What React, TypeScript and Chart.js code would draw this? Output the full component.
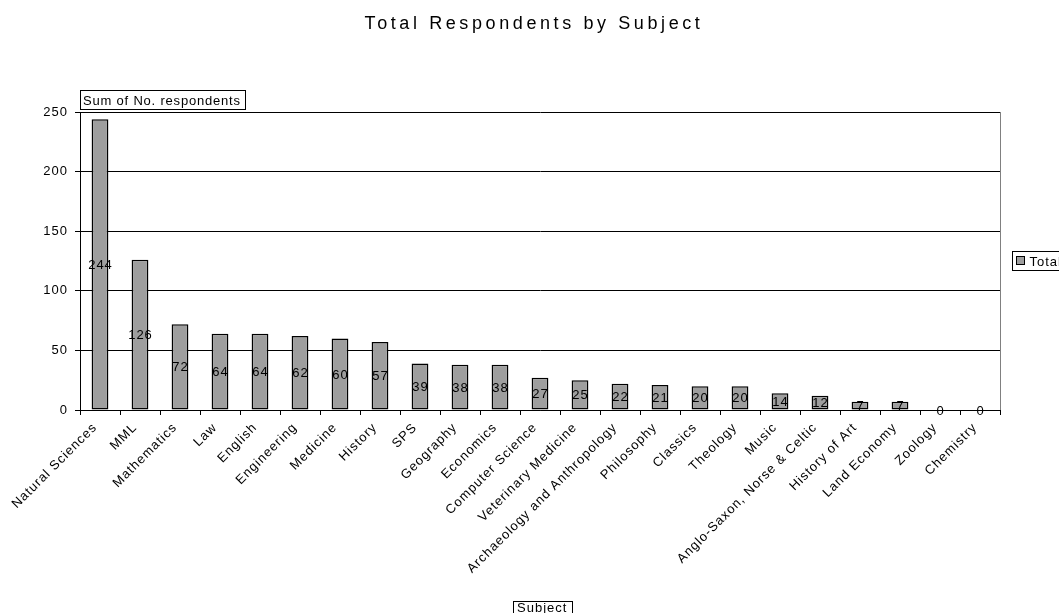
import React, { useEffect, useRef } from "react";
import { Chart, registerables } from "chart.js";

Chart.register(...registerables);

const chartTitle = "Total Respondents by Subject";
const yAxisTitle = "Sum of No. respondents";
const xAxisTitle = "Subject";
const seriesName = "Total";

const subjects = [
  "Natural Sciences",
  "MML",
  "Mathematics",
  "Law",
  "English",
  "Engineering",
  "Medicine",
  "History",
  "SPS",
  "Geography",
  "Economics",
  "Computer Science",
  "Veterinary Medicine",
  "Archaeology and Anthropology",
  "Philosophy",
  "Classics",
  "Theology",
  "Music",
  "Anglo-Saxon, Norse & Celtic",
  "History of Art",
  "Land Economy",
  "Zoology",
  "Chemistry",
];

const respondents = [244, 126, 72, 64, 64, 62, 60, 57, 39, 38, 38, 27, 25, 22, 21, 20, 20, 14, 12, 7, 7, 0, 0];

const yMin = 0;
const yMax = 250;
const yStep = 50;

const FONT = "'Liberation Sans', Arial, sans-serif";
const FS = 13;
const SPACING = "1px";
const BAR_FILL = "#9e9e9e";

const decorPlugin = {
  id: "decor",
  beforeDraw(chart: any) {
    (chart.ctx as any).letterSpacing = SPACING;
  },
  afterDraw(chart: any) {
    const ctx = chart.ctx as CanvasRenderingContext2D;
    const area = chart.chartArea;
    ctx.save();

    // right border of plot area
    ctx.strokeStyle = "#808080";
    ctx.lineWidth = 1;
    ctx.beginPath();
    ctx.moveTo(Math.round(area.right) + 0.5, area.top);
    ctx.lineTo(Math.round(area.right) + 0.5, area.bottom);
    ctx.stroke();

    // title
    ctx.fillStyle = "#000";
    ctx.font = `18px ${FONT}`;
    (ctx as any).letterSpacing = "3.6px";
    ctx.textAlign = "center";
    ctx.textBaseline = "alphabetic";
    ctx.fillText(chartTitle, 534, 29);

    // y axis title box
    (ctx as any).letterSpacing = "0.8px";
    ctx.font = `${FS}px ${FONT}`;
    ctx.textAlign = "left";
    ctx.textBaseline = "alphabetic";
    ctx.fillStyle = "#fff";
    ctx.fillRect(80.5, 90.5, 165, 19);
    ctx.strokeStyle = "#000";
    ctx.strokeRect(80.5, 90.5, 165, 19);
    ctx.fillStyle = "#000";
    ctx.fillText(yAxisTitle, 83, 105);
    (ctx as any).letterSpacing = SPACING;

    // x axis title box
    ctx.fillStyle = "#fff";
    ctx.fillRect(513.5, 601.5, 59, 19);
    ctx.strokeStyle = "#000";
    ctx.strokeRect(513.5, 601.5, 59, 19);
    ctx.fillStyle = "#000";
    ctx.fillText(xAxisTitle, 517, 611.5);

    // legend
    ctx.strokeStyle = "#000";
    ctx.strokeRect(1012.5, 251.5, 70, 19);
    ctx.fillStyle = BAR_FILL;
    ctx.fillRect(1016.5, 256.5, 8, 8);
    ctx.strokeRect(1016.5, 256.5, 8, 8);
    ctx.fillStyle = "#000";
    ctx.fillText(seriesName, 1029.5, 265.5);

    ctx.restore();
  },
  afterDatasetsDraw(chart: any) {
    const ctx = chart.ctx as CanvasRenderingContext2D;
    const meta = chart.getDatasetMeta(0);
    const data = chart.data.datasets[0].data as number[];
    ctx.save();
    ctx.fillStyle = "#000";
    ctx.font = `${FS}px ${FONT}`;
    ctx.textAlign = "center";
    ctx.textBaseline = "middle";
    meta.data.forEach((bar: any, i: number) => {
      const cy = (bar.y + bar.base) / 2;
      ctx.fillText(String(data[i]), bar.x + 0.5, cy + 1);
    });
    ctx.restore();
  },
};

export default function App() {
  const canvasRef = useRef<HTMLCanvasElement | null>(null);

  useEffect(() => {
    if (!canvasRef.current) return;
    const chart = new Chart(canvasRef.current, {
      type: "bar",
      data: {
        labels: subjects,
        datasets: [
          {
            label: seriesName,
            data: respondents,
            backgroundColor: BAR_FILL,
            borderColor: "#000",
            borderWidth: 1.5,
            borderSkipped: false,
            categoryPercentage: 1,
            barPercentage: 0.42,
          },
        ],
      },
      options: {
        responsive: false,
        animation: false,
        layout: { padding: { left: 0, right: 59, top: 112, bottom: 0 } },
        plugins: {
          legend: { display: false },
          title: { display: false },
          tooltip: { enabled: false },
        },
        scales: {
          x: {
            grid: {
              offset: true,
              drawOnChartArea: false,
              drawTicks: true,
              tickLength: 5,
              color: "#000",
            },
            border: { display: true, color: "#000" },
            ticks: {
              autoSkip: false,
              minRotation: 45,
              maxRotation: 45,
              padding: 5,
              labelOffset: -5,
              color: "#000",
              font: { family: FONT, size: FS },
            },
            afterFit(scale: any) {
              scale.height = 203;
              scale.paddingLeft = 0;
              scale.paddingRight = 0;
            },
          },
          y: {
            min: yMin,
            max: yMax,
            ticks: {
              stepSize: yStep,
              padding: 7,
              color: "#000",
              font: { family: FONT, size: FS },
            },
            grid: { color: "#000", tickLength: 5, drawTicks: true },
            border: { display: true, color: "#000" },
            afterFit(scale: any) {
              scale.width = 80;
            },
          },
        },
      },
      plugins: [decorPlugin],
    });
    return () => chart.destroy();
  }, []);

  return (
    <div style={{ position: "absolute", left: 0, top: 0, width: 1059, height: 613, background: "#fff" }}>
      <canvas ref={canvasRef} width={1059} height={613} />
    </div>
  );
}
